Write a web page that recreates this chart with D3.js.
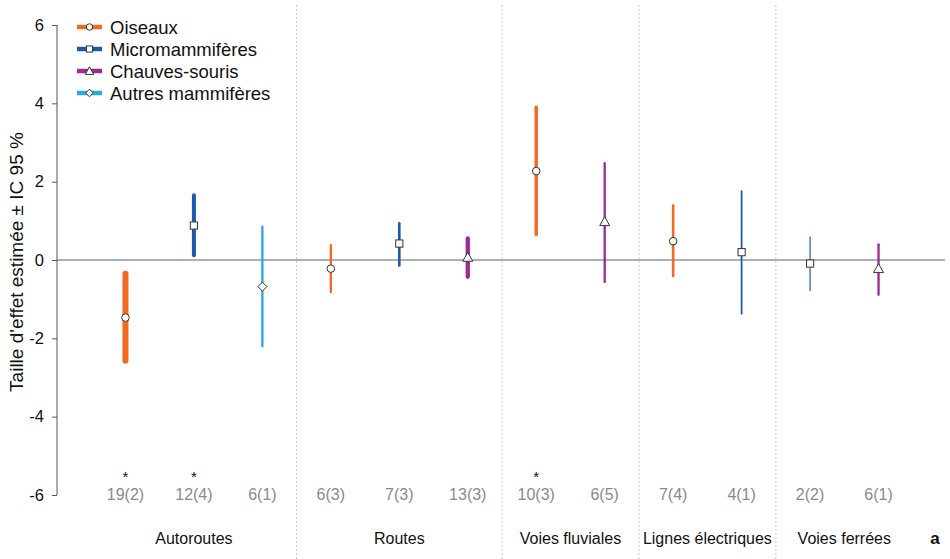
<!DOCTYPE html>
<html><head><meta charset="utf-8">
<script src="https://cdn.jsdelivr.net/npm/d3@7"></script>
<style>body{margin:0;background:#fff}svg{display:block}text{font-family:"Liberation Sans",Arial,sans-serif}</style>
</head><body><svg id="c" width="950" height="559"></svg>
<script>
const groups = ["Oiseaux","Micromammifères","Chauves-souris","Autres mammifères"];
const groupColors = ["#f26a22","#1d5ba8","#9c2b96","#2aa8df"];
const groupShapes = ["circle","square","triangle","diamond"];
const categories = ["Autoroutes","Routes","Voies fluviales","Lignes électriques","Voies ferrées"];
const itemCategory = ["Autoroutes","Autoroutes","Autoroutes","Routes","Routes","Routes","Voies fluviales","Voies fluviales","Lignes électriques","Lignes électriques","Voies ferrées","Voies ferrées"];
const itemGroup = ["Oiseaux","Micromammifères","Autres mammifères","Oiseaux","Micromammifères","Chauves-souris","Oiseaux","Chauves-souris","Oiseaux","Micromammifères","Micromammifères","Chauves-souris"];
const estimate = [-1.47,0.88,-0.68,-0.22,0.42,0.07,2.27,0.98,0.48,0.2,-0.09,-0.22];
const lower = [-2.57,0.12,-2.2,-0.82,-0.14,-0.43,0.65,-0.56,-0.41,-1.37,-0.78,-0.89];
const upper = [-0.35,1.65,0.85,0.38,0.94,0.55,3.9,2.47,1.39,1.76,0.59,0.4];
const nStudies = [19,12,6,6,7,13,10,6,7,4,2,6];
const nLabels = ["19(2)","12(4)","6(1)","6(3)","7(3)","13(3)","10(3)","6(5)","7(4)","4(1)","2(2)","6(1)"];
const significant = [true,true,false,false,false,false,true,false,false,false,false,false];
const yTicks = [-6,-4,-2,0,2,4,6];

(function(){
const svg = d3.select("#c");
const mL = 57, mR = 947, mT = 25, mB = 495;
const ids = d3.range(estimate.length);
const x = d3.scalePoint().domain(ids).range([mL,mR]).padding(1);
const y = d3.scaleLinear().domain([-6,6]).range([mB,mT]);
const color = d3.scaleOrdinal().domain(groups).range(groupColors);
const shape = d3.scaleOrdinal().domain(groups).range(groupShapes);
const width = d3.scaleLinear().domain([2,19]).range([1.2,6]);

const catBounds = categories.map(c => {
  const idx = ids.filter(i => itemCategory[i] === c);
  return {c, x0: x(idx[0]), x1: x(idx[idx.length-1])};
});
for (let k = 1; k < catBounds.length; k++) {
  const xx = (catBounds[k-1].x1 + catBounds[k].x0)/2;
  svg.append("line").attr("x1",xx).attr("x2",xx).attr("y1",5).attr("y2",559)
    .attr("stroke","#c8c8c8").attr("stroke-width",1).attr("stroke-dasharray","2,2");
}

const yAxis = d3.axisLeft(y).tickValues(yTicks).tickSize(5).tickPadding(8).tickFormat(d3.format("d"));
const ga = svg.append("g").attr("transform",`translate(${mL},0)`).call(yAxis);
ga.select(".domain").attr("stroke","#555").attr("d",`M0,${mT}V${mB}`);
ga.selectAll(".tick line").attr("stroke","#555");
ga.selectAll(".tick text").attr("font-size",16.5).attr("fill","#111")
  .attr("font-family","'Liberation Sans',Arial,sans-serif")
  .text(d => d < 0 ? "-" + Math.abs(d) : d);

svg.append("line").attr("x1",mL).attr("x2",945).attr("y1",y(0)).attr("y2",y(0))
  .attr("stroke","#5d6570").attr("stroke-width",1.2);

svg.append("text").attr("transform",`translate(23,${y(0)+2}) rotate(-90)`)
  .attr("text-anchor","middle").attr("font-size",19).attr("fill","#111")
  .text("Taille d'effet estimée ± IC 95 %");

function marker(g, s, cx, cy, sc) {
  sc = sc || 1;
  let el;
  if (s === "circle") el = g.append("circle").attr("cx",cx).attr("cy",cy).attr("r",3.8*sc);
  else if (s === "square") el = g.append("rect").attr("x",cx-3.6*sc).attr("y",cy-3.6*sc).attr("width",7.2*sc).attr("height",7.2*sc);
  else if (s === "triangle") el = g.append("path").attr("d",`M${cx},${cy-5*sc}L${cx+5*sc},${cy+4*sc}L${cx-5*sc},${cy+4*sc}Z`);
  else el = g.append("path").attr("d",`M${cx},${cy-4.5*sc}L${cx+4.5*sc},${cy}L${cx},${cy+4.5*sc}L${cx-4.5*sc},${cy}Z`);
  el.attr("fill","#fff").attr("stroke","#333").attr("stroke-width",1);
}

const gm = svg.append("g");
ids.forEach(i => {
  gm.append("line").attr("x1",x(i)).attr("x2",x(i)).attr("y1",y(lower[i])).attr("y2",y(upper[i]))
    .attr("stroke",color(itemGroup[i])).attr("stroke-width",width(nStudies[i])).attr("stroke-linecap","round");
  marker(gm, shape(itemGroup[i]), x(i), y(estimate[i]));
});

ids.forEach(i => {
  svg.append("text").attr("x",x(i)).attr("y",500).attr("text-anchor","middle")
    .attr("font-size",16).attr("fill","#8a8a8a").text(nLabels[i]);
  if (significant[i]) svg.append("text").attr("x",x(i)).attr("y",482).attr("text-anchor","middle")
    .attr("font-size",15).attr("fill","#111").text("*");
});

catBounds.forEach(b => {
  svg.append("text").attr("x",(b.x0+b.x1)/2).attr("y",544).attr("text-anchor","middle")
    .attr("font-size",16).attr("fill","#111").text(b.c);
});
svg.append("text").attr("x",935).attr("y",544).attr("text-anchor","middle")
  .attr("font-size",17).attr("font-weight","bold").attr("fill","#111").text("a");

const lg = svg.append("g");
groups.forEach((g,k) => {
  const yy = 27 + k*22;
  lg.append("line").attr("x1",77).attr("x2",102).attr("y1",yy).attr("y2",yy)
    .attr("stroke",color(g)).attr("stroke-width",4.5);
  marker(lg, shape(g), 89.5, yy, 0.85);
  lg.append("text").attr("x",110).attr("y",yy+6.5).attr("font-size",18.5).attr("fill","#111").text(g);
});
})();
</script></body></html>
